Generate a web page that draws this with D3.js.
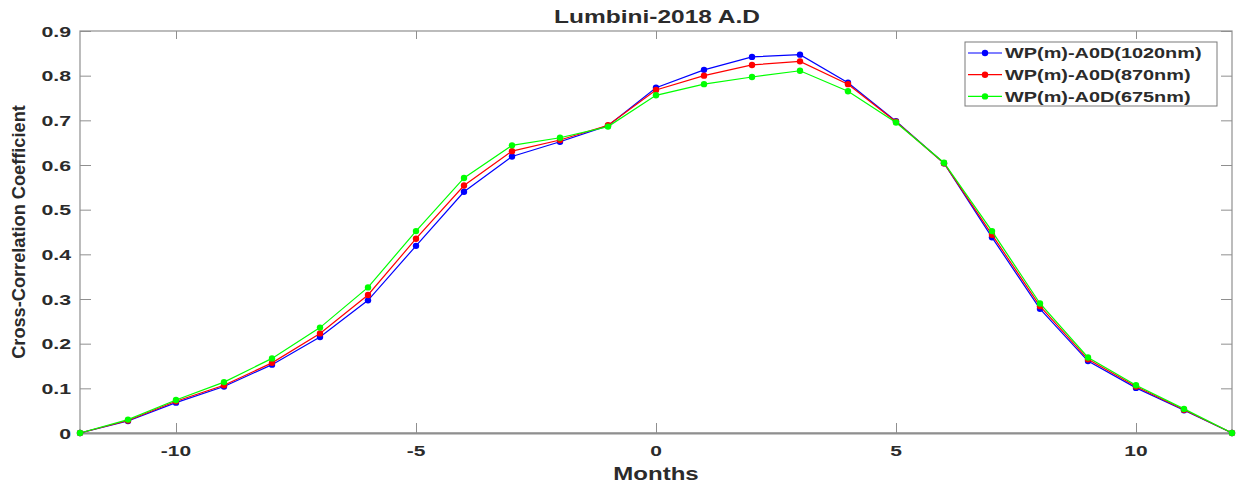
<!DOCTYPE html>
<html>
<head>
<meta charset="utf-8">
<script src="https://cdn.jsdelivr.net/npm/d3@7"></script>
<style>
  html, body { margin: 0; padding: 0; background: #fff; }
  svg { display: block; }
  text { font-family: "Liberation Sans", Arial, sans-serif; font-weight: bold; }
</style>
</head>
<body>
<svg id="chart" width="1238" height="486"></svg>
<script>
// Lag in months
const months = [-12, -11, -10, -9, -8, -7, -6, -5, -4, -3, -2, -1, 0, 1, 2, 3, 4, 5, 6, 7, 8, 9, 10, 11, 12];

// Cross-correlation coefficient of water vapour vs AOD at each wavelength
const wp1020 = [0, 0.027, 0.068, 0.104, 0.153, 0.215, 0.297, 0.419, 0.540, 0.619, 0.652, 0.688, 0.773, 0.813, 0.842, 0.847, 0.784, 0.698, 0.604, 0.438, 0.278, 0.161, 0.101, 0.051, 0];
const wp870  = [0, 0.028, 0.071, 0.107, 0.157, 0.223, 0.309, 0.435, 0.554, 0.631, 0.656, 0.689, 0.768, 0.800, 0.824, 0.832, 0.781, 0.697, 0.604, 0.444, 0.284, 0.165, 0.104, 0.052, 0];
const wp675  = [0, 0.030, 0.074, 0.114, 0.167, 0.236, 0.326, 0.452, 0.571, 0.644, 0.661, 0.686, 0.756, 0.781, 0.797, 0.811, 0.765, 0.695, 0.605, 0.452, 0.290, 0.169, 0.107, 0.054, 0];

const seriesNames  = ["WP(m)-A0D(1020nm)", "WP(m)-A0D(870nm)", "WP(m)-A0D(675nm)"];
const seriesColors = ["#0000ff", "#ff0000", "#00ff00"];
const seriesValues = [wp1020, wp870, wp675];

const xTicks = [-10, -5, 0, 5, 10];
const yTicks = [0, 0.1, 0.2, 0.3, 0.4, 0.5, 0.6, 0.7, 0.8, 0.9];

const titleText = "Lumbini-2018 A.D";
const xLabel = "Months";
const yLabel = "Cross-Correlation Coefficient";

const svg = d3.select("#chart");
const plotL = 80, plotR = 1232, plotT = 31, plotB = 433;

const x = d3.scaleLinear().domain([-12, 12]).range([plotL, plotR]);
const y = d3.scaleLinear().domain([0, 0.9]).range([plotB, plotT]);

const axisColor = "#8f8f8f";
const textColor = "#2b2b2b";

// horizontally widened text helper
function wideText(g, tx, ty, str, size, sx, anchor) {
  return g.append("text")
    .attr("transform", `translate(${tx},${ty}) scale(${sx},1)`)
    .attr("text-anchor", anchor)
    .attr("font-size", size)
    .attr("fill", textColor)
    .text(str);
}

// plot box
svg.append("rect")
  .attr("x", plotL).attr("y", plotT)
  .attr("width", plotR - plotL).attr("height", plotB - plotT)
  .attr("fill", "none").attr("stroke", axisColor).attr("stroke-width", 1.2);

// bottom axis with inward ticks
const xAxis = d3.axisBottom(x).tickValues(xTicks).tickSizeInner(-10).tickSizeOuter(0).tickFormat("");
const gx = svg.append("g").attr("transform", `translate(0,${plotB})`).call(xAxis);
gx.select(".domain").attr("stroke", axisColor).attr("stroke-width", 2);
gx.selectAll(".tick line").attr("stroke", axisColor);

// top ticks
const xTop = d3.axisTop(x).tickValues(xTicks).tickSizeInner(-8).tickSizeOuter(0).tickFormat("");
const gxt = svg.append("g").attr("transform", `translate(0,${plotT})`).call(xTop);
gxt.select(".domain").remove();
gxt.selectAll(".tick line").attr("stroke", axisColor);

// left axis
const yAxis = d3.axisLeft(y).tickValues(yTicks).tickSizeInner(-11).tickSizeOuter(0).tickFormat("");
const gy = svg.append("g").attr("transform", `translate(${plotL},0)`).call(yAxis);
gy.select(".domain").remove();
gy.selectAll(".tick line").attr("stroke", axisColor);

// right ticks
const yRight = d3.axisRight(y).tickValues(yTicks).tickSizeInner(-11).tickSizeOuter(0).tickFormat("");
const gyr = svg.append("g").attr("transform", `translate(${plotR},0)`).call(yRight);
gyr.select(".domain").remove();
gyr.selectAll(".tick line").attr("stroke", axisColor);

// tick labels
const labels = svg.append("g");
xTicks.forEach(t => wideText(labels, x(t), 456, String(t), 15, 1.4, "middle"));
yTicks.forEach(t => wideText(labels, 71, y(t) + 5.5, String(+t.toFixed(1)), 15, 1.42, "end"));

// axis titles and chart title
wideText(svg, 656, 480, xLabel, 18.5, 1.3, "middle");
wideText(svg, 657, 22.5, titleText, 17.5, 1.4, "middle");
svg.append("text")
  .attr("transform", `translate(25,${(plotT + plotB) / 2}) rotate(-90)`)
  .attr("text-anchor", "middle")
  .attr("font-size", 18.2)
  .attr("fill", textColor)
  .text(yLabel);

// series lines and markers
const line = d3.line().x((d, i) => x(months[i])).y(d => y(d));
const plot = svg.append("g");
seriesValues.forEach((vals, k) => {
  plot.append("path")
    .datum(vals)
    .attr("d", line)
    .attr("fill", "none")
    .attr("stroke", seriesColors[k])
    .attr("stroke-width", 1.2);
  plot.selectAll(null)
    .data(vals)
    .enter().append("circle")
    .attr("cx", (d, i) => x(months[i]))
    .attr("cy", d => y(d))
    .attr("r", 3.2)
    .attr("fill", seriesColors[k]);
});

// legend
const lg = svg.append("g");
lg.append("rect")
  .attr("x", 965).attr("y", 42).attr("width", 252).attr("height", 64)
  .attr("fill", "#fff").attr("stroke", "#7a7a7a").attr("stroke-width", 1);
seriesNames.forEach((name, k) => {
  const cy = 53 + k * 21.7;
  lg.append("line")
    .attr("x1", 968).attr("x2", 1002).attr("y1", cy).attr("y2", cy)
    .attr("stroke", seriesColors[k]).attr("stroke-width", 1.2);
  lg.append("circle")
    .attr("cx", 985).attr("cy", cy).attr("r", 3.2).attr("fill", seriesColors[k]);
  wideText(lg, 1005, cy + 5.3, name, 14, 1.42, "start");
});
</script>
</body>
</html>
